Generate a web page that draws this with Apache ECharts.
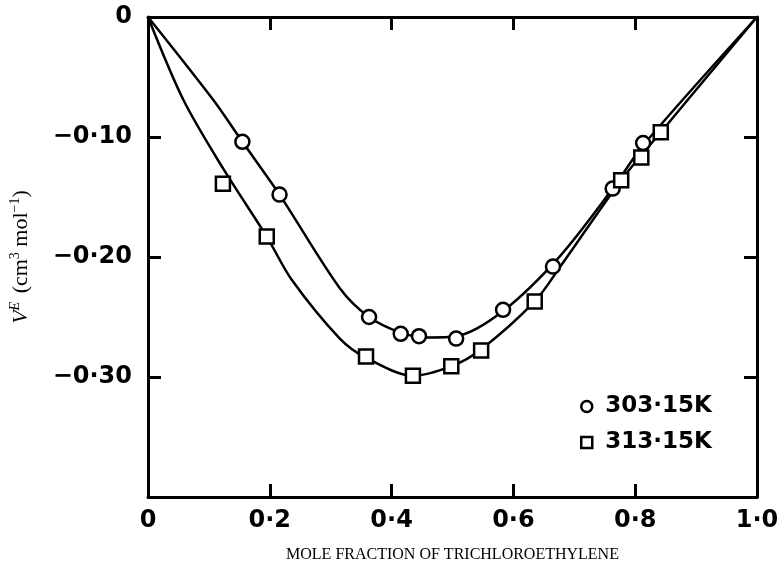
<!DOCTYPE html>
<html>
<head>
<meta charset="utf-8">
<script src="https://cdn.jsdelivr.net/npm/echarts@6/dist/echarts.min.js"></script>
<style>
  html, body { margin: 0; padding: 0; background: #fff; }
  #chart { width: 780px; height: 569px; }
</style>
</head>
<body>
<div id="chart"></div>
<script>
// measured points, 303.15 K (circles)
var x303 = [0.155, 0.216, 0.363, 0.415, 0.445, 0.506, 0.583, 0.665, 0.763, 0.813];
var y303 = [-0.104, -0.148, -0.250, -0.264, -0.266, -0.268, -0.244, -0.208, -0.143, -0.105];
// measured points, 313.15 K (squares)
var x313 = [0.123, 0.195, 0.358, 0.435, 0.498, 0.547, 0.635, 0.777, 0.810, 0.842];
var y313 = [-0.139, -0.183, -0.283, -0.299, -0.291, -0.278, -0.237, -0.136, -0.117, -0.096];

// fitted curves
var cx303 = [0, 0.107, 0.155, 0.216, 0.315, 0.363, 0.415, 0.46, 0.506, 0.583, 0.677, 0.763, 0.813, 1.0];
var cy303 = [0, -0.069, -0.104, -0.148, -0.226, -0.250, -0.263, -0.267, -0.266, -0.245, -0.199, -0.143, -0.107, 0];
var cx313 = [0, 0.058, 0.123, 0.195, 0.236, 0.315, 0.358, 0.435, 0.498, 0.547, 0.635, 0.677, 0.777, 0.842, 1.0];
var cy313 = [0, -0.069, -0.126, -0.183, -0.219, -0.268, -0.284, -0.299, -0.291, -0.277, -0.237, -0.208, -0.136, -0.096, 0];

var seriesNames = ['303·15K', '313·15K'];

var xTicks = [0, 0.2, 0.4, 0.6, 0.8, 1.0];
var xTickLabels = ['0', '0·2', '0·4', '0·6', '0·8', '1·0'];
var yTicks = [0, -0.1, -0.2, -0.3, -0.4];
var yTickLabels = ['0', '−0·10', '−0·20', '−0·30', ''];

function pairs(xs, ys) {
    return xs.map(function (x, i) { return [x, ys[i]]; });
}
function lookup(ticks, labels) {
    return function (v) {
        for (var i = 0; i < ticks.length; i++) {
            if (Math.abs(v - ticks[i]) < 1e-6) return labels[i];
        }
        return '';
    };
}

var tickFont = {
    color: '#000',
    fontFamily: 'DejaVu Sans',
    fontWeight: 'bold',
    fontSize: 24
};
var axisLine = { show: true, onZero: false, lineStyle: { color: '#000', width: 3 } };
var innerTick = { show: true, inside: true, length: 13, lineStyle: { color: '#000', width: 3 } };

var chart = echarts.init(document.getElementById('chart'));
chart.setOption({
    backgroundColor: '#fff',
    animation: false,
    grid: { left: 148, right: 23, top: 17, bottom: 72, outerBoundsMode: 'none', containLabel: false },
    legend: {
        data: seriesNames,
        orient: 'vertical',
        left: 575,
        top: 390,
        itemWidth: 11,
        itemHeight: 11,
        itemGap: 13,
        textStyle: {
            color: '#000',
            fontFamily: 'DejaVu Sans',
            fontWeight: 'bold',
            fontSize: 23,
            padding: [0, 0, 0, 8]
        },
        itemStyle: { color: '#fff', borderColor: '#000', borderWidth: 2.5 }
    },
    xAxis: [{
        type: 'value',
        min: 0,
        max: 1,
        interval: 0.2,
        name: 'MOLE FRACTION OF TRICHLOROETHYLENE',
        nameLocation: 'middle',
        nameGap: 50,
        nameTextStyle: { color: '#000', fontFamily: 'Liberation Serif', fontSize: 16 },
        axisLine: axisLine,
        axisTick: innerTick,
        splitLine: { show: false },
        axisLabel: Object.assign({ margin: 12, formatter: lookup(xTicks, xTickLabels) }, tickFont)
    }, {
        type: 'value',
        position: 'top',
        min: 0,
        max: 1,
        interval: 0.2,
        axisLine: axisLine,
        axisTick: innerTick,
        splitLine: { show: false },
        axisLabel: { show: false }
    }],
    yAxis: [{
        type: 'value',
        min: -0.4,
        max: 0,
        interval: 0.1,
        name: '{v|V}{e|E}{t| (cm}{s|3}{t| mol}{s|−1}{t|)}',
        nameLocation: 'middle',
        nameGap: 114,
        nameRotate: 90,
        nameTextStyle: {
            color: '#000',
            fontFamily: 'Liberation Serif',
            fontSize: 22,
            rich: {
                v: { fontFamily: 'Liberation Serif', fontStyle: 'italic', fontSize: 22, color: '#000', lineHeight: 26 },
                t: { fontFamily: 'Liberation Serif', fontSize: 22, color: '#000', lineHeight: 26 },
                e: { fontFamily: 'Liberation Serif', fontStyle: 'italic', fontSize: 14, color: '#000', verticalAlign: 'top', lineHeight: 15, padding: [0, 3, 0, 0] },
                s: { fontFamily: 'Liberation Serif', fontSize: 14, color: '#000', verticalAlign: 'top', lineHeight: 15 }
            }
        },
        axisLine: axisLine,
        axisTick: innerTick,
        splitLine: { show: false },
        axisLabel: Object.assign({ margin: 16, formatter: lookup(yTicks, yTickLabels) }, tickFont)
    }, {
        type: 'value',
        position: 'right',
        min: -0.4,
        max: 0,
        interval: 0.1,
        axisLine: axisLine,
        axisTick: innerTick,
        splitLine: { show: false },
        axisLabel: { show: false }
    }],
    series: [{
        type: 'line',
        smooth: 0.3,
        showSymbol: false,
        symbol: 'none',
        silent: true,
        lineStyle: { color: '#000', width: 2.5 },
        data: pairs(cx303, cy303),
        z: 2
    }, {
        type: 'line',
        smooth: 0.3,
        showSymbol: false,
        symbol: 'none',
        silent: true,
        lineStyle: { color: '#000', width: 2.5 },
        data: pairs(cx313, cy313),
        z: 2
    }, {
        name: seriesNames[0],
        type: 'scatter',
        symbol: 'circle',
        symbolSize: 14,
        itemStyle: { color: '#fff', borderColor: '#000', borderWidth: 2.5, opacity: 1 },
        data: pairs(x303, y303),
        z: 3
    }, {
        name: seriesNames[1],
        type: 'scatter',
        symbol: 'rect',
        symbolSize: 14,
        itemStyle: { color: '#fff', borderColor: '#000', borderWidth: 2.5, opacity: 1 },
        data: pairs(x313, y313),
        z: 3
    }]
});
</script>
</body>
</html>
